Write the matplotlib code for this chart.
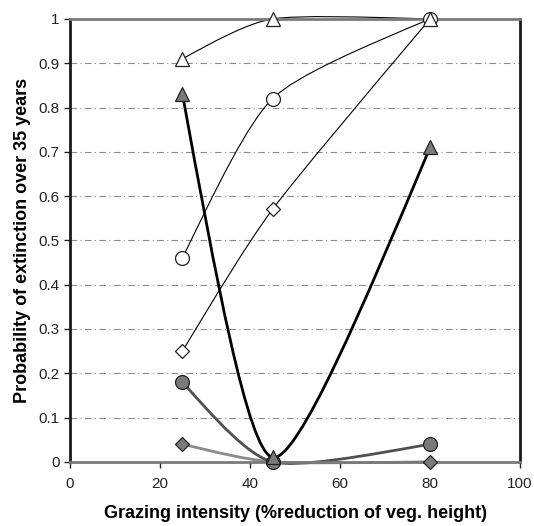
import matplotlib
matplotlib.use("Agg")
import matplotlib.pyplot as plt
from matplotlib.path import Path
from matplotlib.patches import PathPatch

plt.rcParams['font.family'] = ['Liberation Sans', 'DejaVu Sans']

# Intensidad de pastoreo (% reducción de altura de vegetación)
grazing = [25, 45, 80]

# Probabilidad de extinción en 35 años, una lista por serie
open_triangle = [0.91, 1.0, 1.0]
open_circle = [0.46, 0.82, 1.0]
open_diamond = [0.25, 0.57, 1.0]
filled_triangle = [0.83, 0.01, 0.71]
filled_circle = [0.18, 0.0, 0.04]
filled_diamond = [0.04, 0.0, 0.0]

# (valores, marcador, relleno, color de línea, grosor de línea)
# orden de dibujo: el último queda encima
SERIES = [
    (filled_diamond, 'D', '#7a7a7a', '#8a8a8a', 2.0),
    (filled_circle, 'o', '#7a7a7a', '#505050', 2.0),
    (filled_triangle, '^', '#7a7a7a', 'black', 2.0),
    (open_diamond, 'D', 'white', 'black', 0.8),
    (open_circle, 'o', 'white', 'black', 0.8),
    (open_triangle, '^', 'white', 'black', 0.8),
]

TENSION = 0.1  # largo de las tangentes interiores


def smooth_path(xs, ys):
    """Curva suavizada tipo Excel: Bezier cúbicas con tangentes Catmull-Rom
    y extremos 'naturales' (curvatura nula)."""
    pts = list(zip(xs, ys))
    n = len(pts)
    ctrl = []
    for i in range(n - 1):
        p0 = pts[max(i - 1, 0)]
        p1 = pts[i]
        p2 = pts[i + 1]
        p3 = pts[min(i + 2, n - 1)]
        c1 = (p1[0] + (p2[0] - p0[0]) * TENSION, p1[1] + (p2[1] - p0[1]) * TENSION)
        c2 = (p2[0] - (p3[0] - p1[0]) * TENSION, p2[1] - (p3[1] - p1[1]) * TENSION)
        ctrl.append([c1, c2])
    if n > 2:
        # primer tramo
        c2 = ctrl[0][1]
        ctrl[0][0] = ((pts[0][0] + c2[0]) / 2, (pts[0][1] + c2[1]) / 2)
        # último tramo
        c1 = ctrl[-1][0]
        ctrl[-1][1] = ((pts[-1][0] + c1[0]) / 2, (pts[-1][1] + c1[1]) / 2)
    verts = [pts[0]]
    codes = [Path.MOVETO]
    for i in range(n - 1):
        verts += [ctrl[i][0], ctrl[i][1], pts[i + 1]]
        codes += [Path.CURVE4] * 3
    return Path(verts, codes)


fig = plt.figure(figsize=(5.34, 5.26), dpi=100)
ax = fig.add_axes([0.131, 0.122, 0.843, 0.842])

for y in [0.1, 0.2, 0.3, 0.4, 0.5, 0.6, 0.7, 0.8, 0.9]:
    ax.axhline(y, color='#8c8c8c', linestyle=(0, (6, 3, 1, 3)), linewidth=0.8, zorder=1)

for k, (vals, marker, face, lcolor, lw) in enumerate(SERIES):
    patch = PathPatch(smooth_path(grazing, vals), facecolor='none',
                      edgecolor=lcolor, linewidth=lw, zorder=2 + k * 0.01,
                      clip_on=False)
    ax.add_patch(patch)
    ms = 7 if marker == 'D' else 10
    ax.plot(grazing, vals, linestyle='none', marker=marker, markersize=ms,
            markerfacecolor=face, markeredgecolor='#202020',
            markeredgewidth=0.9, zorder=3 + k * 0.01, clip_on=False)

ax.set_xlim(0, 100)
ax.set_ylim(0, 1)
ax.set_xticks([0, 20, 40, 60, 80, 100])
ax.set_yticks([0, 0.1, 0.2, 0.3, 0.4, 0.5, 0.6, 0.7, 0.8, 0.9, 1])
ax.set_yticklabels(['0', '0.1', '0.2', '0.3', '0.4', '0.5', '0.6',
                    '0.7', '0.8', '0.9', '1'])
ax.tick_params(axis='both', direction='out', length=4, width=1,
               labelsize=11, colors='#222222')
ax.tick_params(axis='x', pad=7)

ax.spines['left'].set_linewidth(2)
ax.spines['left'].set_color('#1a1a1a')
ax.spines['right'].set_linewidth(2)
ax.spines['right'].set_color('#1a1a1a')
ax.spines['top'].set_linewidth(2)
ax.spines['top'].set_color('#7a7a7a')
ax.spines['bottom'].set_linewidth(2)
ax.spines['bottom'].set_color('#7a7a7a')

ax.set_xlabel('Grazing intensity (%reduction of veg. height)',
              fontsize=13, fontweight='bold', labelpad=10)
ax.set_ylabel('Probability of extinction over 35 years',
              fontsize=13, fontweight='bold', labelpad=5)

fig.savefig('out.png', dpi=100)
